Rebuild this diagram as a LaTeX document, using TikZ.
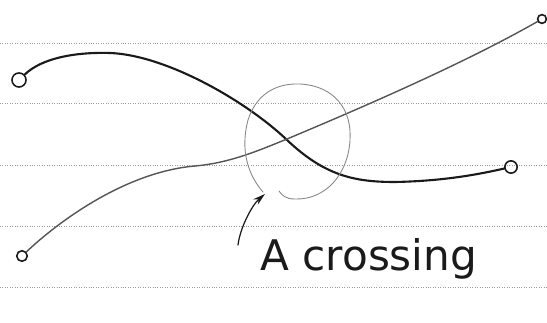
\documentclass[tikz,border=0pt]{standalone}
\usepackage{tikz}
\usepackage{fontspec}
\newfontfamily\handfont{DejaVu Sans}
\usetikzlibrary{arrows.meta, positioning}
\definecolor{ruleGray}{HTML}{9A9A9A}
\definecolor{penDark}{HTML}{1A1A1A}
\definecolor{penGray}{HTML}{555555}

\begin{document}
\begin{tikzpicture}[x=0.02cm, y=-0.02cm,
    ruling/.style={draw=ruleGray, line width=0.4pt, densely dotted},
    endloop/.style={circle, draw=penDark, line width=0.9pt, inner sep=0pt, minimum size=#1},
    strand/.style={draw=#1, line cap=round},
  ]
    \useasboundingbox (0,0) rectangle (547,323);
    \fill[white] (0,0) rectangle (547,323);
    % ruled paper
    \foreach \y in {43,103,165,226,287}
      \draw[ruling] (0,\y) -- (547,\y);

    \node[endloop=8pt] (lt) at (19,80) {};
    \node[endloop=7pt] (rm) at (511,167) {};
    \node[endloop=6pt] (lb) at (22,256) {};
    \node[endloop=5pt] (rt) at (542,19) {};

    \draw[strand=penDark, line width=1.2pt] (lt) .. controls (42,58) and (75,52) .. (110,53)
      .. controls (165,55) and (245,100) .. (287,140)
      .. controls (325,176) and (355,182) .. (395,182)
      .. controls (445,181) and (480,174) .. (rm);
    \draw[strand=penGray, line width=0.8pt] (lb) .. controls (58,222) and (125,172) .. (195,166)
      .. controls (230,163) and (260,150) .. (287,139)
      .. controls (380,100) and (470,60) .. (rt);

    \draw[strand=penGray!70, line width=0.5pt] (263,192)
      .. controls (248,175) and (240,150) .. (248,120)
      .. controls (256,95) and (275,83) .. (300,84)
      .. controls (335,86) and (352,110) .. (350,140)
      .. controls (348,175) and (325,200) .. (295,199)
      .. controls (285,199) and (282,195) .. (279,191);

    \node[font=\handfont\fontsize{24}{29}\selectfont, text=penDark, inner sep=0pt,
          anchor=base west] (label) at (260,271) {A crossing};
    \coordinate (tail) at (238,245);
    \coordinate (tip) at (265,194);
    \draw[strand=penDark, line width=0.7pt, -{Stealth[length=7pt, width=4pt]}] (tail)
      .. controls (240,228) and (252,205) .. (tip);
  \end{tikzpicture}
\end{document}
